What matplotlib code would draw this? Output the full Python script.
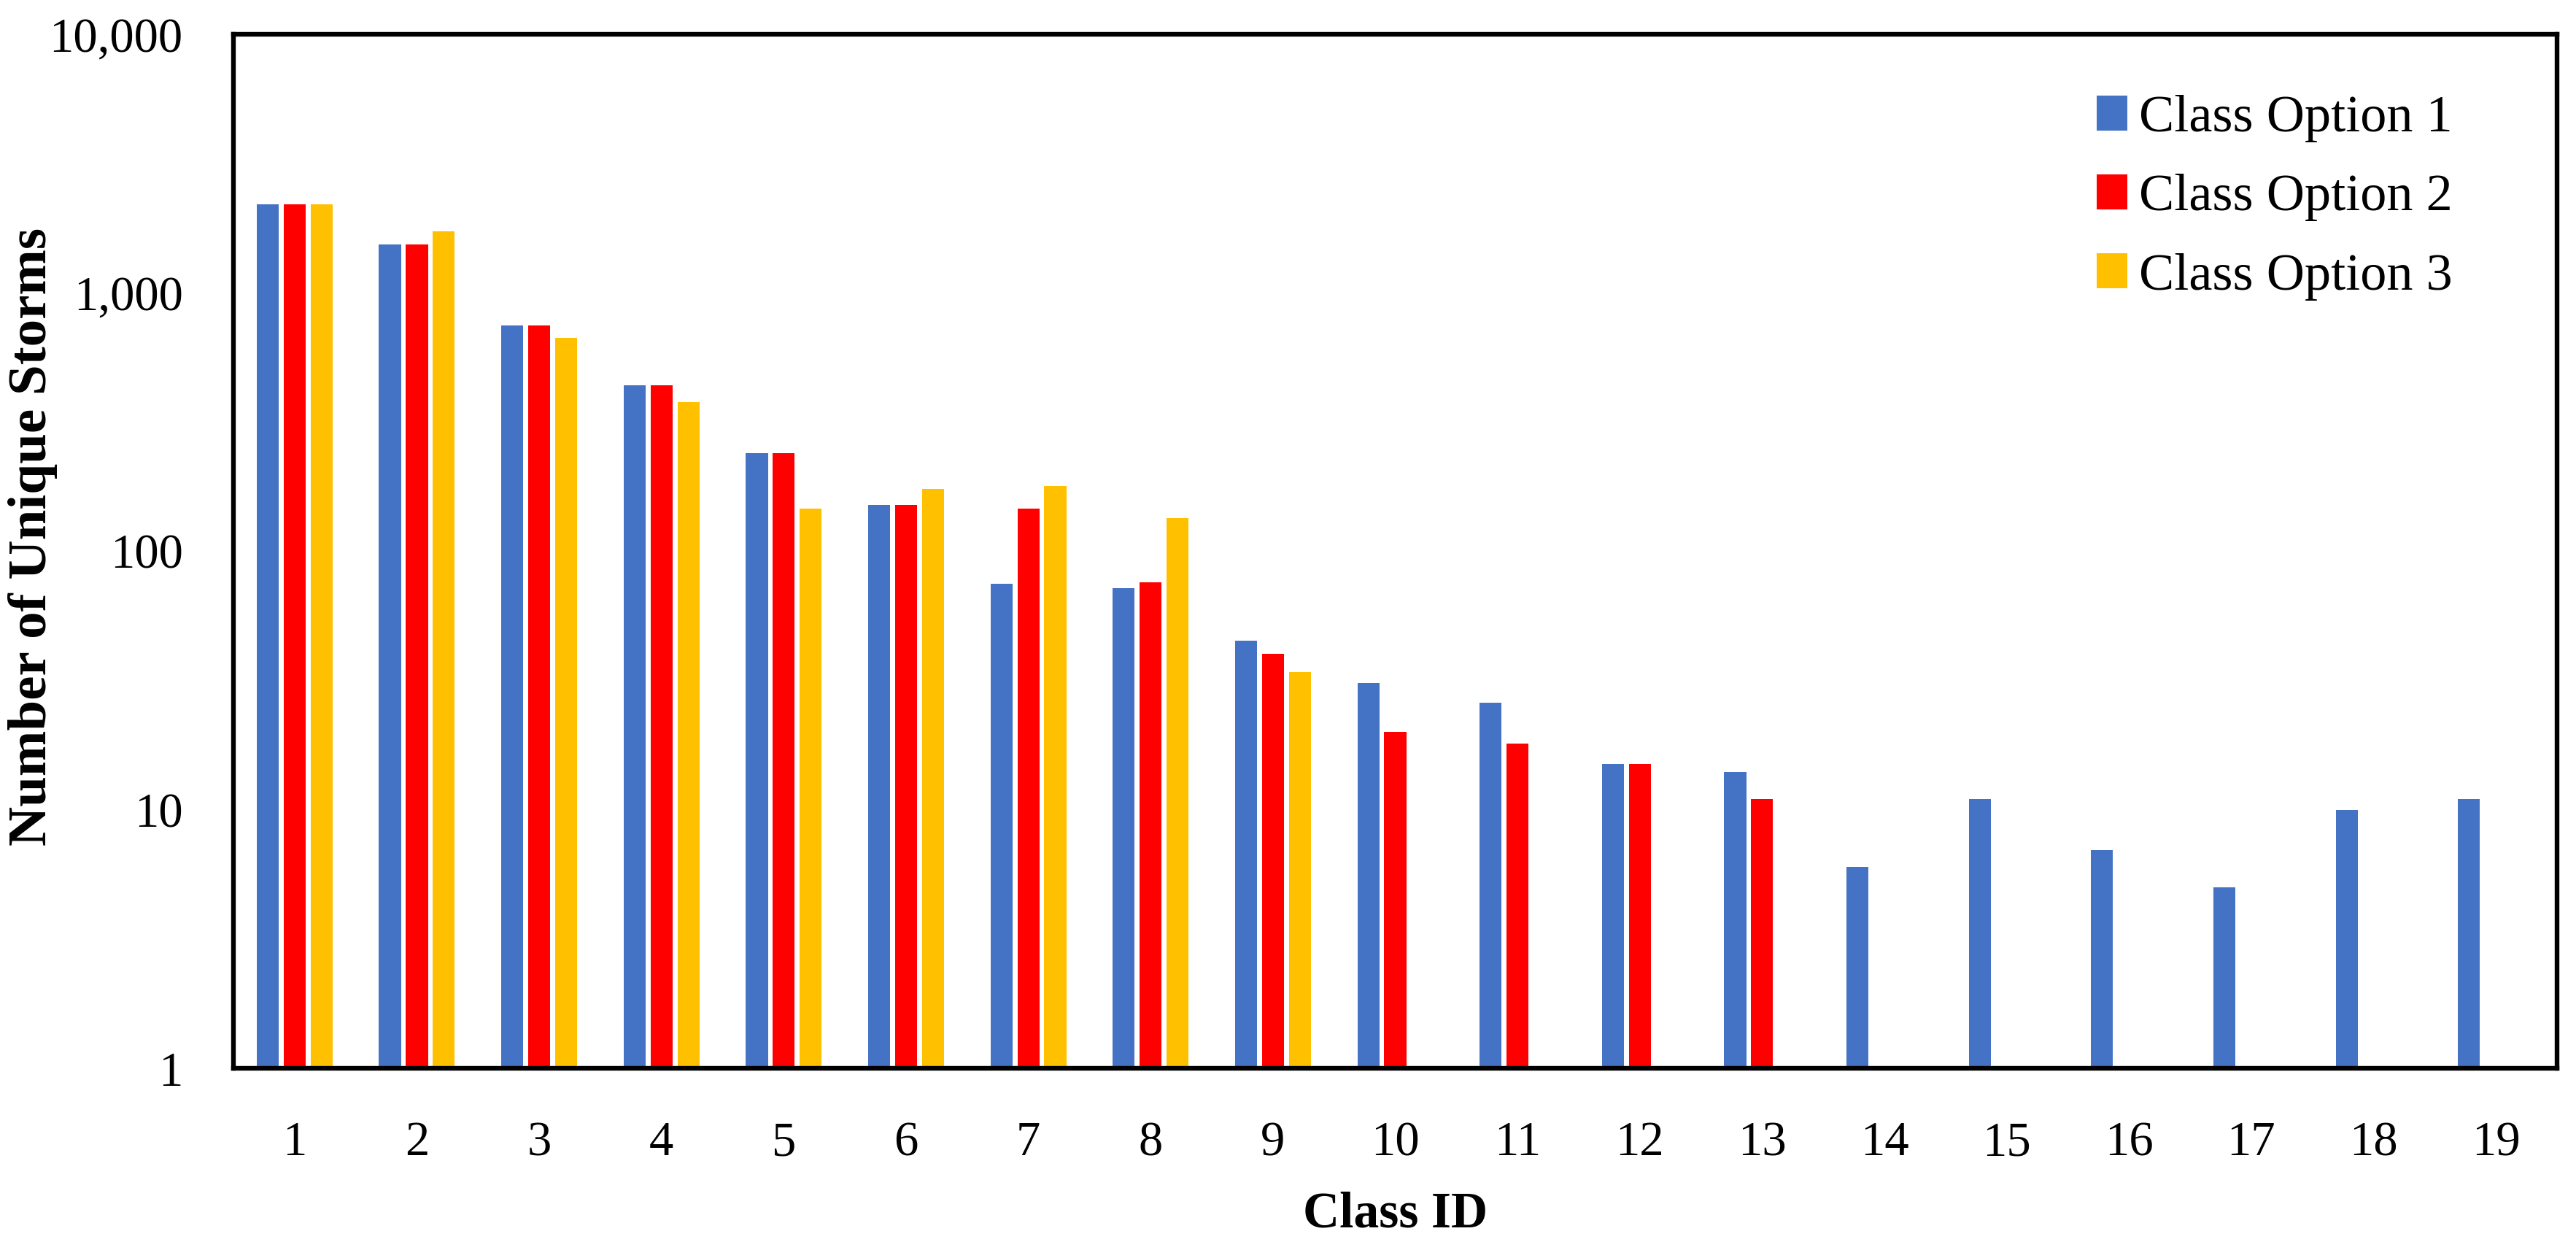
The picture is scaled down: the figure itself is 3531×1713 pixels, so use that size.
import numpy as np
import matplotlib
matplotlib.use('Agg')
import matplotlib.pyplot as plt

plt.rcParams['font.family'] = ['Liberation Serif', 'DejaVu Serif']

# data (log scale)
class_ids = list(range(1, 20))
option1 = [2200, 1540, 750, 440, 240, 151, 75, 72, 45, 31, 26, 15, 14, 6, 11, 7, 5, 10, 11]
option2 = [2200, 1540, 750, 440, 240, 151, 146, 76, 40, 20, 18, 15, 11]
option3 = [2200, 1730, 670, 378, 146, 174, 179, 134, 34]

labels = ['Class Option 1', 'Class Option 2', 'Class Option 3']
colors = ['#4472C4', '#FF0000', '#FFC000']

W, H = 3531, 1713
fig = plt.figure(figsize=(W / 100, H / 100), dpi=100)
ax = fig.add_axes([320 / W, 1 - 1464 / H, (3505 - 320) / W, (1464 - 47) / H])

x = np.array(class_ids)
width = 0.18
step = 0.22
series = [option1, option2, option3]
for i, (vals, lab, col) in enumerate(zip(series, labels, colors)):
    xs = x[:len(vals)] + (i - 1) * step
    ax.bar(xs, vals, width=width, color=col, label=lab, zorder=2)

ax.set_yscale('log')
ax.set_ylim(1, 10000)
ax.set_xlim(0.5, 19.5)
ax.set_xticks(class_ids)
ax.set_xticklabels([str(c) for c in class_ids])
ax.set_yticks([1, 10, 100, 1000, 10000])
ax.set_yticklabels(['1', '10', '100', '1,000', '10,000'])
ax.yaxis.set_minor_locator(matplotlib.ticker.NullLocator())
ax.tick_params(axis='both', length=0, labelsize=48)
ax.tick_params(axis='y', pad=50)
ax.tick_params(axis='x', pad=52)

for s in ax.spines.values():
    s.set_linewidth(4.6)
    s.set_color('black')

ax.set_xlabel('Class ID', fontsize=50, fontweight='bold')
ax.set_ylabel('Number of Unique Storms', fontsize=54, fontweight='bold')
ax.xaxis.set_label_coords(0.5, (1464 - 1664) / (1464 - 47))
ax.xaxis.label.set_va('center')
ax.yaxis.set_label_coords((45 - 320) / (3505 - 320), 0.514)
ax.yaxis.label.set_va('center')

leg = ax.legend(loc='upper left', bbox_to_anchor=(2874 / W, 1 - 130 / H),
                bbox_transform=fig.transFigure, frameon=False, fontsize=52,
                handlelength=0.58, handleheight=0.65, handletextpad=0.22,
                labelspacing=0.6, borderpad=0, borderaxespad=0)

fig.savefig('out.png', dpi=100)
